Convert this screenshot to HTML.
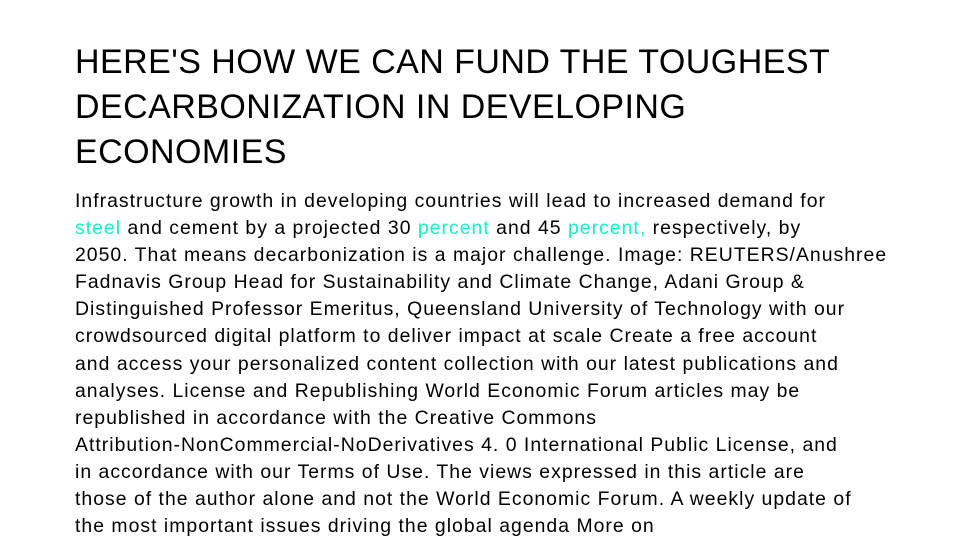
<!DOCTYPE html>
<html><head><meta charset="utf-8"><style>
body{margin:0;width:960px;height:558px;background:#fff;overflow:hidden;font-family:"Liberation Sans",sans-serif;color:#000}
h1{position:absolute;left:75px;top:40px;margin:0;font-weight:normal;font-size:34px;line-height:45px;width:880px;letter-spacing:0.45px}
p{position:absolute;left:75px;top:188px;margin:0;font-size:19.4px;line-height:27.1px;white-space:nowrap;letter-spacing:1.02px}
a{color:#13f2c4;text-decoration:none}
</style></head><body>
<h1>HERE'S HOW WE CAN FUND THE TOUGHEST<br>DECARBONIZATION IN DEVELOPING<br>ECONOMIES</h1>
<p>Infrastructure growth in developing countries will lead to increased demand for<br><a>steel</a> and cement by a projected 30 <a>percent</a> and 45 <a>percent,</a> respectively, by<br>2050. That means decarbonization is a major challenge. Image: REUTERS/Anushree<br>Fadnavis Group Head for Sustainability and Climate Change, Adani Group &amp;<br>Distinguished Professor Emeritus, Queensland University of Technology with our<br>crowdsourced digital platform to deliver impact at scale Create a free account<br>and access your personalized content collection with our latest publications and<br>analyses. License and Republishing World Economic Forum articles may be<br>republished in accordance with the Creative Commons<br>Attribution-NonCommercial-NoDerivatives 4. 0 International Public License, and<br>in accordance with our Terms of Use. The views expressed in this article are<br>those of the author alone and not the World Economic Forum. A weekly update of<br>the most important issues driving the global agenda More on</p>
</body></html>
